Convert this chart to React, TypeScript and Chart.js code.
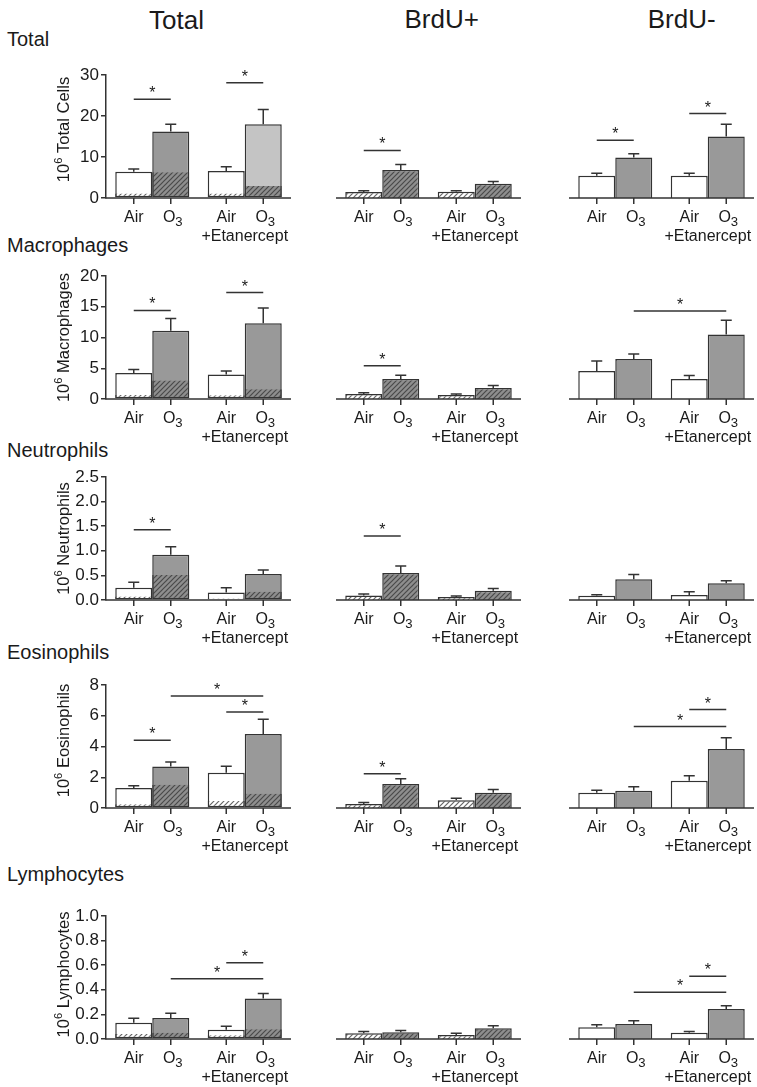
import React, { useEffect, useRef } from "react";
import { Chart, registerables } from "chart.js";

Chart.register(...registerables);

const FONT = "'Liberation Sans', Arial, Helvetica, 'DejaVu Sans', sans-serif";
const TEXT = "#1a1a1a";
const LINE = "#333333";
const GRAY = "#999999";
const LIGHT_GRAY = "#c4c4c4";

// ---------- labels ----------
const COLUMN_TITLES = ["Total", "BrdU+", "BrdU-"];
const ROW_TITLES = ["Total", "Macrophages", "Neutrophils", "Eosinophils", "Lymphocytes"];
const Y_AXIS_TITLES = ["10⁶ Total Cells", "10⁶ Macrophages", "10⁶ Neutrophils", "10⁶ Eosinophils", "10⁶ Lymphocytes"];
const GROUP_LABELS = ["", "+Etanercept"];
const TREATMENTS = ["Air", "O₃"];

// ---------- y axes ----------
const Y_MAX = [30, 20, 2.5, 8, 1.0];
const Y_STEP = [10, 5, 0.5, 2, 0.2];
const Y_DECIMALS = [0, 0, 1, 0, 1];

// ---------- data: each array = [vehicle, +Etanercept] ----------
// significance: [barA, barB, height]; bars 0 Air, 1 O3, 2 Air+Etanercept, 3 O3+Etanercept

// Total cells
const cellsAllAir = [6.4, 6.6];
const cellsAllAirErr = [0.65, 1.0];
const cellsAllO3 = [16.2, 18.0];
const cellsAllO3Err = [1.8, 3.6];
const cellsAllAirBrdU = [1.1, 1.1];
const cellsAllO3BrdU = [6.3, 2.9];
const cellsAllSig = [[0, 1, 24.1], [2, 3, 28.1]];
const cellsPosAir = [1.45, 1.5];
const cellsPosAirErr = [0.3, 0.25];
const cellsPosO3 = [6.8, 3.5];
const cellsPosO3Err = [1.4, 0.5];
const cellsPosSig = [[0, 1, 11.6]];
const cellsNegAir = [5.4, 5.4];
const cellsNegAirErr = [0.65, 0.65];
const cellsNegO3 = [9.9, 15.0];
const cellsNegO3Err = [0.9, 3.0];
const cellsNegSig = [[0, 1, 14.1], [2, 3, 20.6]];

// Macrophages
const macAllAir = [4.24, 4.0];
const macAllAirErr = [0.55, 0.55];
const macAllO3 = [11.1, 12.3];
const macAllO3Err = [2.0, 2.5];
const macAllAirBrdU = [0.65, 0.6];
const macAllO3BrdU = [3.0, 1.6];
const macAllSig = [[0, 1, 14.4], [2, 3, 17.3]];
const macPosAir = [0.8, 0.65];
const macPosAirErr = [0.2, 0.15];
const macPosO3 = [3.26, 1.8];
const macPosO3Err = [0.6, 0.4];
const macPosSig = [[0, 1, 5.4]];
const macNegAir = [4.57, 3.26];
const macNegAirErr = [1.6, 0.55];
const macNegO3 = [6.5, 10.5];
const macNegO3Err = [0.8, 2.3];
const macNegSig = [[1, 3, 14.3]];

// Neutrophils
const neuAllAir = [0.25, 0.15];
const neuAllAirErr = [0.11, 0.1];
const neuAllO3 = [0.92, 0.53];
const neuAllO3Err = [0.16, 0.08];
const neuAllAirBrdU = [0.07, 0.03];
const neuAllO3BrdU = [0.51, 0.17];
const neuAllSig = [[0, 1, 1.43]];
const neuPosAir = [0.09, 0.06];
const neuPosAirErr = [0.03, 0.02];
const neuPosO3 = [0.55, 0.19];
const neuPosO3Err = [0.14, 0.045];
const neuPosSig = [[0, 1, 1.3]];
const neuNegAir = [0.087, 0.1];
const neuNegAirErr = [0.02, 0.07];
const neuNegO3 = [0.42, 0.34];
const neuNegO3Err = [0.1, 0.05];
const neuNegSig: number[][] = [];

// Eosinophils
const eosAllAir = [1.3, 2.3];
const eosAllAirErr = [0.15, 0.42];
const eosAllO3 = [2.7, 4.82];
const eosAllO3Err = [0.3, 0.95];
const eosAllAirBrdU = [0.24, 0.45];
const eosAllO3BrdU = [1.52, 0.93];
const eosAllSig = [[0, 1, 4.41], [2, 3, 6.25], [1, 3, 7.29]];
const eosPosAir = [0.26, 0.5];
const eosPosAirErr = [0.09, 0.13];
const eosPosO3 = [1.56, 1.0];
const eosPosO3Err = [0.35, 0.21];
const eosPosSig = [[0, 1, 2.23]];
const eosNegAir = [1.0, 1.78];
const eosNegAirErr = [0.15, 0.32];
const eosNegO3 = [1.13, 3.83];
const eosNegO3Err = [0.26, 0.74];
const eosNegSig = [[2, 3, 6.4], [1, 3, 5.3]];

// Lymphocytes
const lymAllAir = [0.133, 0.076];
const lymAllAirErr = [0.035, 0.027];
const lymAllO3 = [0.17, 0.33];
const lymAllO3Err = [0.04, 0.04];
const lymAllAirBrdU = [0.04, 0.03];
const lymAllO3BrdU = [0.05, 0.08];
const lymAllSig = [[2, 3, 0.62], [1, 3, 0.49]];
const lymPosAir = [0.046, 0.033];
const lymPosAirErr = [0.014, 0.013];
const lymPosO3 = [0.055, 0.087];
const lymPosO3Err = [0.015, 0.021];
const lymPosSig: number[][] = [];
const lymNegAir = [0.095, 0.051];
const lymNegAirErr = [0.021, 0.009];
const lymNegO3 = [0.122, 0.244];
const lymNegO3Err = [0.027, 0.026];
const lymNegSig = [[2, 3, 0.51], [1, 3, 0.38]];

type Panel = {
  air: number[]; airErr: number[]; o3: number[]; o3Err: number[];
  airPart?: number[]; o3Part?: number[]; sig: number[][];
};

const PANELS: Panel[][] = [
  [
    { air: cellsAllAir, airErr: cellsAllAirErr, o3: cellsAllO3, o3Err: cellsAllO3Err, airPart: cellsAllAirBrdU, o3Part: cellsAllO3BrdU, sig: cellsAllSig },
    { air: cellsPosAir, airErr: cellsPosAirErr, o3: cellsPosO3, o3Err: cellsPosO3Err, sig: cellsPosSig },
    { air: cellsNegAir, airErr: cellsNegAirErr, o3: cellsNegO3, o3Err: cellsNegO3Err, sig: cellsNegSig },
  ],
  [
    { air: macAllAir, airErr: macAllAirErr, o3: macAllO3, o3Err: macAllO3Err, airPart: macAllAirBrdU, o3Part: macAllO3BrdU, sig: macAllSig },
    { air: macPosAir, airErr: macPosAirErr, o3: macPosO3, o3Err: macPosO3Err, sig: macPosSig },
    { air: macNegAir, airErr: macNegAirErr, o3: macNegO3, o3Err: macNegO3Err, sig: macNegSig },
  ],
  [
    { air: neuAllAir, airErr: neuAllAirErr, o3: neuAllO3, o3Err: neuAllO3Err, airPart: neuAllAirBrdU, o3Part: neuAllO3BrdU, sig: neuAllSig },
    { air: neuPosAir, airErr: neuPosAirErr, o3: neuPosO3, o3Err: neuPosO3Err, sig: neuPosSig },
    { air: neuNegAir, airErr: neuNegAirErr, o3: neuNegO3, o3Err: neuNegO3Err, sig: neuNegSig },
  ],
  [
    { air: eosAllAir, airErr: eosAllAirErr, o3: eosAllO3, o3Err: eosAllO3Err, airPart: eosAllAirBrdU, o3Part: eosAllO3BrdU, sig: eosAllSig },
    { air: eosPosAir, airErr: eosPosAirErr, o3: eosPosO3, o3Err: eosPosO3Err, sig: eosPosSig },
    { air: eosNegAir, airErr: eosNegAirErr, o3: eosNegO3, o3Err: eosNegO3Err, sig: eosNegSig },
  ],
  [
    { air: lymAllAir, airErr: lymAllAirErr, o3: lymAllO3, o3Err: lymAllO3Err, airPart: lymAllAirBrdU, o3Part: lymAllO3BrdU, sig: lymAllSig },
    { air: lymPosAir, airErr: lymPosAirErr, o3: lymPosO3, o3Err: lymPosO3Err, sig: lymPosSig },
    { air: lymNegAir, airErr: lymNegAirErr, o3: lymNegO3, o3Err: lymNegO3Err, sig: lymNegSig },
  ],
];

// ---------- layout ----------
const ZERO_Y = [198, 399, 600, 808, 1039];
const PLOT_H = 123;
const PLOT_W = 185;
const CHART_LEFT = [106, 336, 569];
const CANVAS_LEFT = [0, 326, 559];
const PAD_RIGHT = [10, 10, 3];
const PAD_TOP = 30;
const PAD_BOTTOM = 52;
const TITLE_X = 63;
const TITLE_DY = [-7, 0, 0, -6, -3];
const HEADER_X = [176.5, 441.7, 681.7];
const HEADER_BASE = [29.5, 28, 28];
const ROW_BASE = [45.7, 252, 457, 659, 881];
const XLABEL_SIZE = 16;

const SUB = "₀₁₂₃₄₅₆₇₈₉";
const SUP = "⁰¹²³⁴⁵⁶⁷⁸⁹";

type Part = { text: string; size: number; dy: number };
function toParts(label: string, size: number): Part[] {
  const parts: Part[] = [];
  for (const ch of label) {
    let p: Part;
    if (SUB.includes(ch)) p = { text: String(SUB.indexOf(ch)), size: size * 0.82, dy: size * 0.22 };
    else if (SUP.includes(ch)) p = { text: String(SUP.indexOf(ch)), size: size * 0.68, dy: -size * 0.4 };
    else p = { text: ch, size, dy: 0 };
    const last = parts[parts.length - 1];
    if (last && last.size === p.size && last.dy === p.dy) last.text += p.text;
    else parts.push(p);
  }
  return parts;
}
function drawRich(g: CanvasRenderingContext2D, label: string, size: number, x: number, y: number) {
  const parts = toParts(label, size);
  const widths = parts.map((p) => { g.font = `${p.size}px ${FONT}`; return g.measureText(p.text).width; });
  const total = widths.reduce((a, b) => a + b, 0);
  let cx = x - total / 2;
  g.textAlign = "left";
  g.textBaseline = "alphabetic";
  parts.forEach((p, i) => {
    g.font = `${p.size}px ${FONT}`;
    g.fillText(p.text, cx, y + p.dy);
    cx += widths[i];
  });
}

function makeHatch(bg: string, fg: string): CanvasPattern {
  const s = 5;
  const cv = document.createElement("canvas");
  cv.width = s; cv.height = s;
  const g = cv.getContext("2d")!;
  g.fillStyle = bg; g.fillRect(0, 0, s, s);
  g.strokeStyle = fg; g.lineWidth = 1.2;
  g.beginPath();
  g.moveTo(-1, s + 1); g.lineTo(s + 1, -1);
  g.moveTo(-1, 1); g.lineTo(1, -1);
  g.moveTo(s - 1, s + 1); g.lineTo(s + 1, s - 1);
  g.stroke();
  return g.createPattern(cv, "repeat")!;
}

function canvasSize(c: number) {
  const w = CHART_LEFT[c] - CANVAS_LEFT[c] + PLOT_W + PAD_RIGHT[c];
  const h = PAD_TOP + PLOT_H + PAD_BOTTOM;
  return { w, h };
}

function makeChart(canvas: HTMLCanvasElement, r: number, c: number) {
  const p = PANELS[r][c];
  const hatchLight = makeHatch("#ffffff", "#666666");
  const hatchDark = makeHatch("#8e8e8e", "#4a4a4a");
  const common: any = { borderColor: LINE, borderWidth: 1.5, categoryPercentage: 0.8, barPercentage: 1.0 };
  const o3Fill = r === 0 && c === 0 ? [GRAY, LIGHT_GRAY] : GRAY;
  let datasets: any[];
  let airIdx = 0, o3Idx = 1;
  if (c === 0) {
    datasets = [
      { label: "Air BrdU+", data: p.airPart, backgroundColor: hatchLight, stack: "air", order: 1, borderSkipped: "top", ...common },
      { label: "O3 BrdU+", data: p.o3Part, backgroundColor: hatchDark, stack: "o3", order: 1, borderSkipped: "top", ...common },
      { label: "Air", data: p.air, backgroundColor: "#ffffff", stack: "air", order: 2, ...common },
      { label: "O3", data: p.o3, backgroundColor: o3Fill, stack: "o3", order: 2, ...common },
    ];
    airIdx = 2; o3Idx = 3;
  } else if (c === 1) {
    datasets = [
      { label: "Air", data: p.air, backgroundColor: hatchLight, stack: "air", ...common },
      { label: "O3", data: p.o3, backgroundColor: hatchDark, stack: "o3", ...common },
    ];
  } else {
    datasets = [
      { label: "Air", data: p.air, backgroundColor: "#ffffff", stack: "air", ...common },
      { label: "O3", data: p.o3, backgroundColor: GRAY, stack: "o3", ...common },
    ];
  }

  const overlay = {
    id: "panelOverlay",
    afterDatasetsDraw(ch: any) {
      const g: CanvasRenderingContext2D = ch.ctx;
      const area = ch.chartArea;
      const ys = ch.scales.y;
      const xsc = ch.scales.x;
      const airEls = ch.getDatasetMeta(airIdx).data;
      const o3Els = ch.getDatasetMeta(o3Idx).data;
      const xs = [airEls[0].x, o3Els[0].x, airEls[1].x, o3Els[1].x];
      const vals = [p.air[0], p.o3[0], p.air[1], p.o3[1]];
      const errs = [p.airErr[0], p.o3Err[0], p.airErr[1], p.o3Err[1]];
      g.save();
      g.strokeStyle = LINE;
      g.lineWidth = 1.5;
      g.lineCap = "butt";
      // x axis line + ticks
      g.beginPath();
      g.moveTo(area.left - (c === 0 ? 0.75 : 0), area.bottom);
      g.lineTo(area.right, area.bottom);
      xs.forEach((x) => { g.moveTo(x, area.bottom); g.lineTo(x, area.bottom + 6); });
      g.stroke();
      // error bars
      g.beginPath();
      xs.forEach((x, i) => {
        const top = ys.getPixelForValue(vals[i]);
        const et = ys.getPixelForValue(vals[i] + errs[i]);
        g.moveTo(x, top); g.lineTo(x, et);
        g.moveTo(x - 5.5, et); g.lineTo(x + 5.5, et);
      });
      g.stroke();
      // significance
      g.fillStyle = TEXT;
      p.sig.forEach(([a, b, h]) => {
        const yy = ys.getPixelForValue(h);
        g.beginPath();
        g.moveTo(xs[a], yy); g.lineTo(xs[b], yy);
        g.stroke();
        g.font = `16px ${FONT}`;
        g.textAlign = "center";
        g.textBaseline = "alphabetic";
        g.fillText("*", (xs[a] + xs[b]) / 2, yy - 1);
      });
      // x labels
      xs.forEach((x, i) => {
        const lab = TREATMENTS[i % 2];
        drawRich(g, lab, XLABEL_SIZE, x + (i % 2 === 1 ? 2 : 0), area.bottom + 24);
      });
      GROUP_LABELS.forEach((lab, gi) => {
        if (!lab) return;
        drawRich(g, lab, XLABEL_SIZE, xsc.getPixelForValue(gi), area.bottom + 43);
      });
      // y title
      if (c === 0) {
        g.translate(TITLE_X - CANVAS_LEFT[c], (area.top + area.bottom) / 2 + TITLE_DY[r]);
        g.rotate(-Math.PI / 2);
        drawRich(g, Y_AXIS_TITLES[r], 16.5, 0, 5.9);
      }
      g.restore();
    },
  };

  const yScale: any = {
    display: c === 0,
    stacked: false,
    min: 0,
    max: Y_MAX[r],
    border: { display: true, color: LINE, width: 1.5 },
    grid: { display: true, drawOnChartArea: false, drawTicks: true, tickLength: 5, color: LINE, lineWidth: 1.5 },
    ticks: {
      stepSize: Y_STEP[r],
      padding: 2,
      color: TEXT,
      font: { family: FONT, size: 17 },
      callback: (v: any) => Number(v).toFixed(Y_DECIMALS[r]),
    },
  };
  if (c === 0) yScale.afterFit = (axis: any) => { axis.width = CHART_LEFT[0] - 50; };

  const chart = new Chart(canvas, {
    type: "bar",
    data: { labels: GROUP_LABELS, datasets },
    options: {
      responsive: false,
      animation: false,
      devicePixelRatio: 1,
      events: [],
      layout: {
        padding: {
          left: c === 0 ? 50 : CHART_LEFT[c] - CANVAS_LEFT[c],
          right: PAD_RIGHT[c],
          top: PAD_TOP,
          bottom: PAD_BOTTOM,
        },
      },
      plugins: { legend: { display: false }, tooltip: { enabled: false }, title: { display: false } },
      scales: {
        x: { type: "category", display: false, offset: true },
        y: yScale,
      },
    } as any,
    plugins: [overlay],
  });
  return chart;
}

function PanelChart({ r, c }: { r: number; c: number }) {
  const ref = useRef<HTMLCanvasElement>(null);
  const { w, h } = canvasSize(c);
  useEffect(() => {
    const chart = makeChart(ref.current!, r, c);
    return () => chart.destroy();
  }, [r, c]);
  return (
    <canvas
      ref={ref}
      width={w}
      height={h}
      style={{ position: "absolute", left: CANVAS_LEFT[c], top: ZERO_Y[r] - PLOT_H - PAD_TOP, width: w, height: h }}
    />
  );
}

export default function App() {
  const panels: React.ReactNode[] = [];
  ROW_TITLES.forEach((_, r) => COLUMN_TITLES.forEach((__, c) => panels.push(<PanelChart key={`${r}-${c}`} r={r} c={c} />)));
  return (
    <div style={{ position: "absolute", left: 0, top: 0, width: 757, height: 1087, background: "#fff", fontFamily: FONT, color: TEXT }}>
      {COLUMN_TITLES.map((t, i) => (
        <div key={t} style={{ position: "absolute", left: HEADER_X[i] - 100, width: 200, textAlign: "center", top: HEADER_BASE[i] - 0.8465 * 26, fontSize: 26, lineHeight: "26px", whiteSpace: "nowrap" }}>{t}</div>
      ))}
      {ROW_TITLES.map((t, i) => (
        <div key={t + i} style={{ position: "absolute", left: 7, top: ROW_BASE[i] - 0.8465 * 20, fontSize: 20, lineHeight: "20px", whiteSpace: "nowrap" }}>{t}</div>
      ))}
      {panels}
    </div>
  );
}
